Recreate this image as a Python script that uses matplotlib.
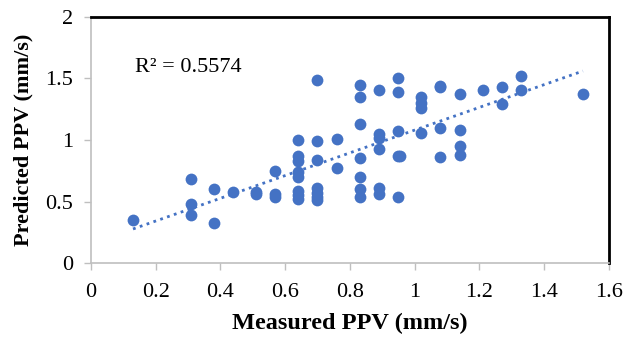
import numpy as np
import matplotlib.pyplot as plt

plt.rcParams["font.family"] = ["Liberation Serif", "DejaVu Serif"]

# measured vs predicted PPV (mm/s)
measured = [0.13,
            0.31, 0.31, 0.31,
            0.38, 0.38,
            0.44,
            0.51, 0.51,
            0.57, 0.57, 0.57,
            0.64, 0.64, 0.64, 0.64, 0.64, 0.64, 0.64, 0.64,
            0.70, 0.70, 0.70, 0.70, 0.70, 0.70, 0.70,
            0.76, 0.76,
            0.83, 0.83, 0.83, 0.83, 0.83, 0.83, 0.83,
            0.89, 0.89, 0.89, 0.89, 0.89, 0.89,
            0.95, 0.95, 0.95, 0.95, 0.955, 0.95,
            1.02, 1.02, 1.02, 1.02,
            1.08, 1.08, 1.08, 1.08,
            1.14, 1.14, 1.14, 1.14,
            1.21,
            1.27, 1.27,
            1.33, 1.33,
            1.52]
predicted = [0.35,
             0.68, 0.48, 0.39,
             0.60, 0.33,
             0.58,
             0.58, 0.56,
             0.75, 0.56, 0.54,
             1.00, 0.87, 0.83, 0.74, 0.70, 0.59, 0.55, 0.52,
             1.49, 0.99, 0.84, 0.61, 0.57, 0.54, 0.51,
             1.01, 0.77,
             1.45, 1.35, 1.13, 0.85, 0.70, 0.60, 0.54,
             1.41, 1.05, 1.02, 0.93, 0.61, 0.56,
             1.50, 1.39, 1.07, 0.87, 0.87, 0.54,
             1.35, 1.30, 1.26, 1.06,
             1.43, 1.10, 0.86, 1.44,
             1.37, 1.08, 0.95, 0.88,
             1.41,
             1.43, 1.29,
             1.52, 1.41,
             1.37]
x_ticks = [0, 0.2, 0.4, 0.6, 0.8, 1, 1.2, 1.4, 1.6]
y_ticks = [0, 0.5, 1, 1.5, 2]

blue = "#4472C4"
gray = "#BFBFBF"

fig = plt.figure(figsize=(6.27, 3.44), dpi=100)
ax = fig.add_axes([0.145, 0.235, 0.826, 0.716])

x = np.array(measured)
y = np.array(predicted)
ax.scatter(x, y, s=72, color=blue, zorder=3, linewidths=0)

# linear trendline
k, b = np.polyfit(x, y, 1)
xl = np.array([x.min(), x.max()])
ax.plot(xl, k * xl + b, color=blue, linestyle=(0, (1, 1.6)), linewidth=2, zorder=2)

ax.text(0.136, 1.59, "R² = 0.5574", fontsize=16, va="center")

ax.set_xlim(0, 1.6)
ax.set_ylim(0, 2)
ax.set_xticks(x_ticks)
ax.set_xticklabels(["0", "0.2", "0.4", "0.6", "0.8", "1", "1.2", "1.4", "1.6"])
ax.set_yticks(y_ticks)
ax.set_yticklabels(["0", "0.5", "1", "1.5", "2"])
ax.tick_params(axis="both", labelsize=16, color=gray, length=5, width=1)
ax.tick_params(axis="x", pad=9)
ax.tick_params(axis="y", pad=8)

for side in ["left", "bottom"]:
    ax.spines[side].set_color(gray)
    ax.spines[side].set_linewidth(1.2)
for side in ["top", "right"]:
    ax.spines[side].set_color("black")
    ax.spines[side].set_linewidth(2)

ax.set_xlabel("Measured PPV (mm/s)", fontsize=17.5, fontweight="bold", labelpad=8)
ax.set_ylabel("Predicted PPV (mm/s)", fontsize=16, fontweight="bold", labelpad=8)

fig.savefig("out.png", dpi=100)
